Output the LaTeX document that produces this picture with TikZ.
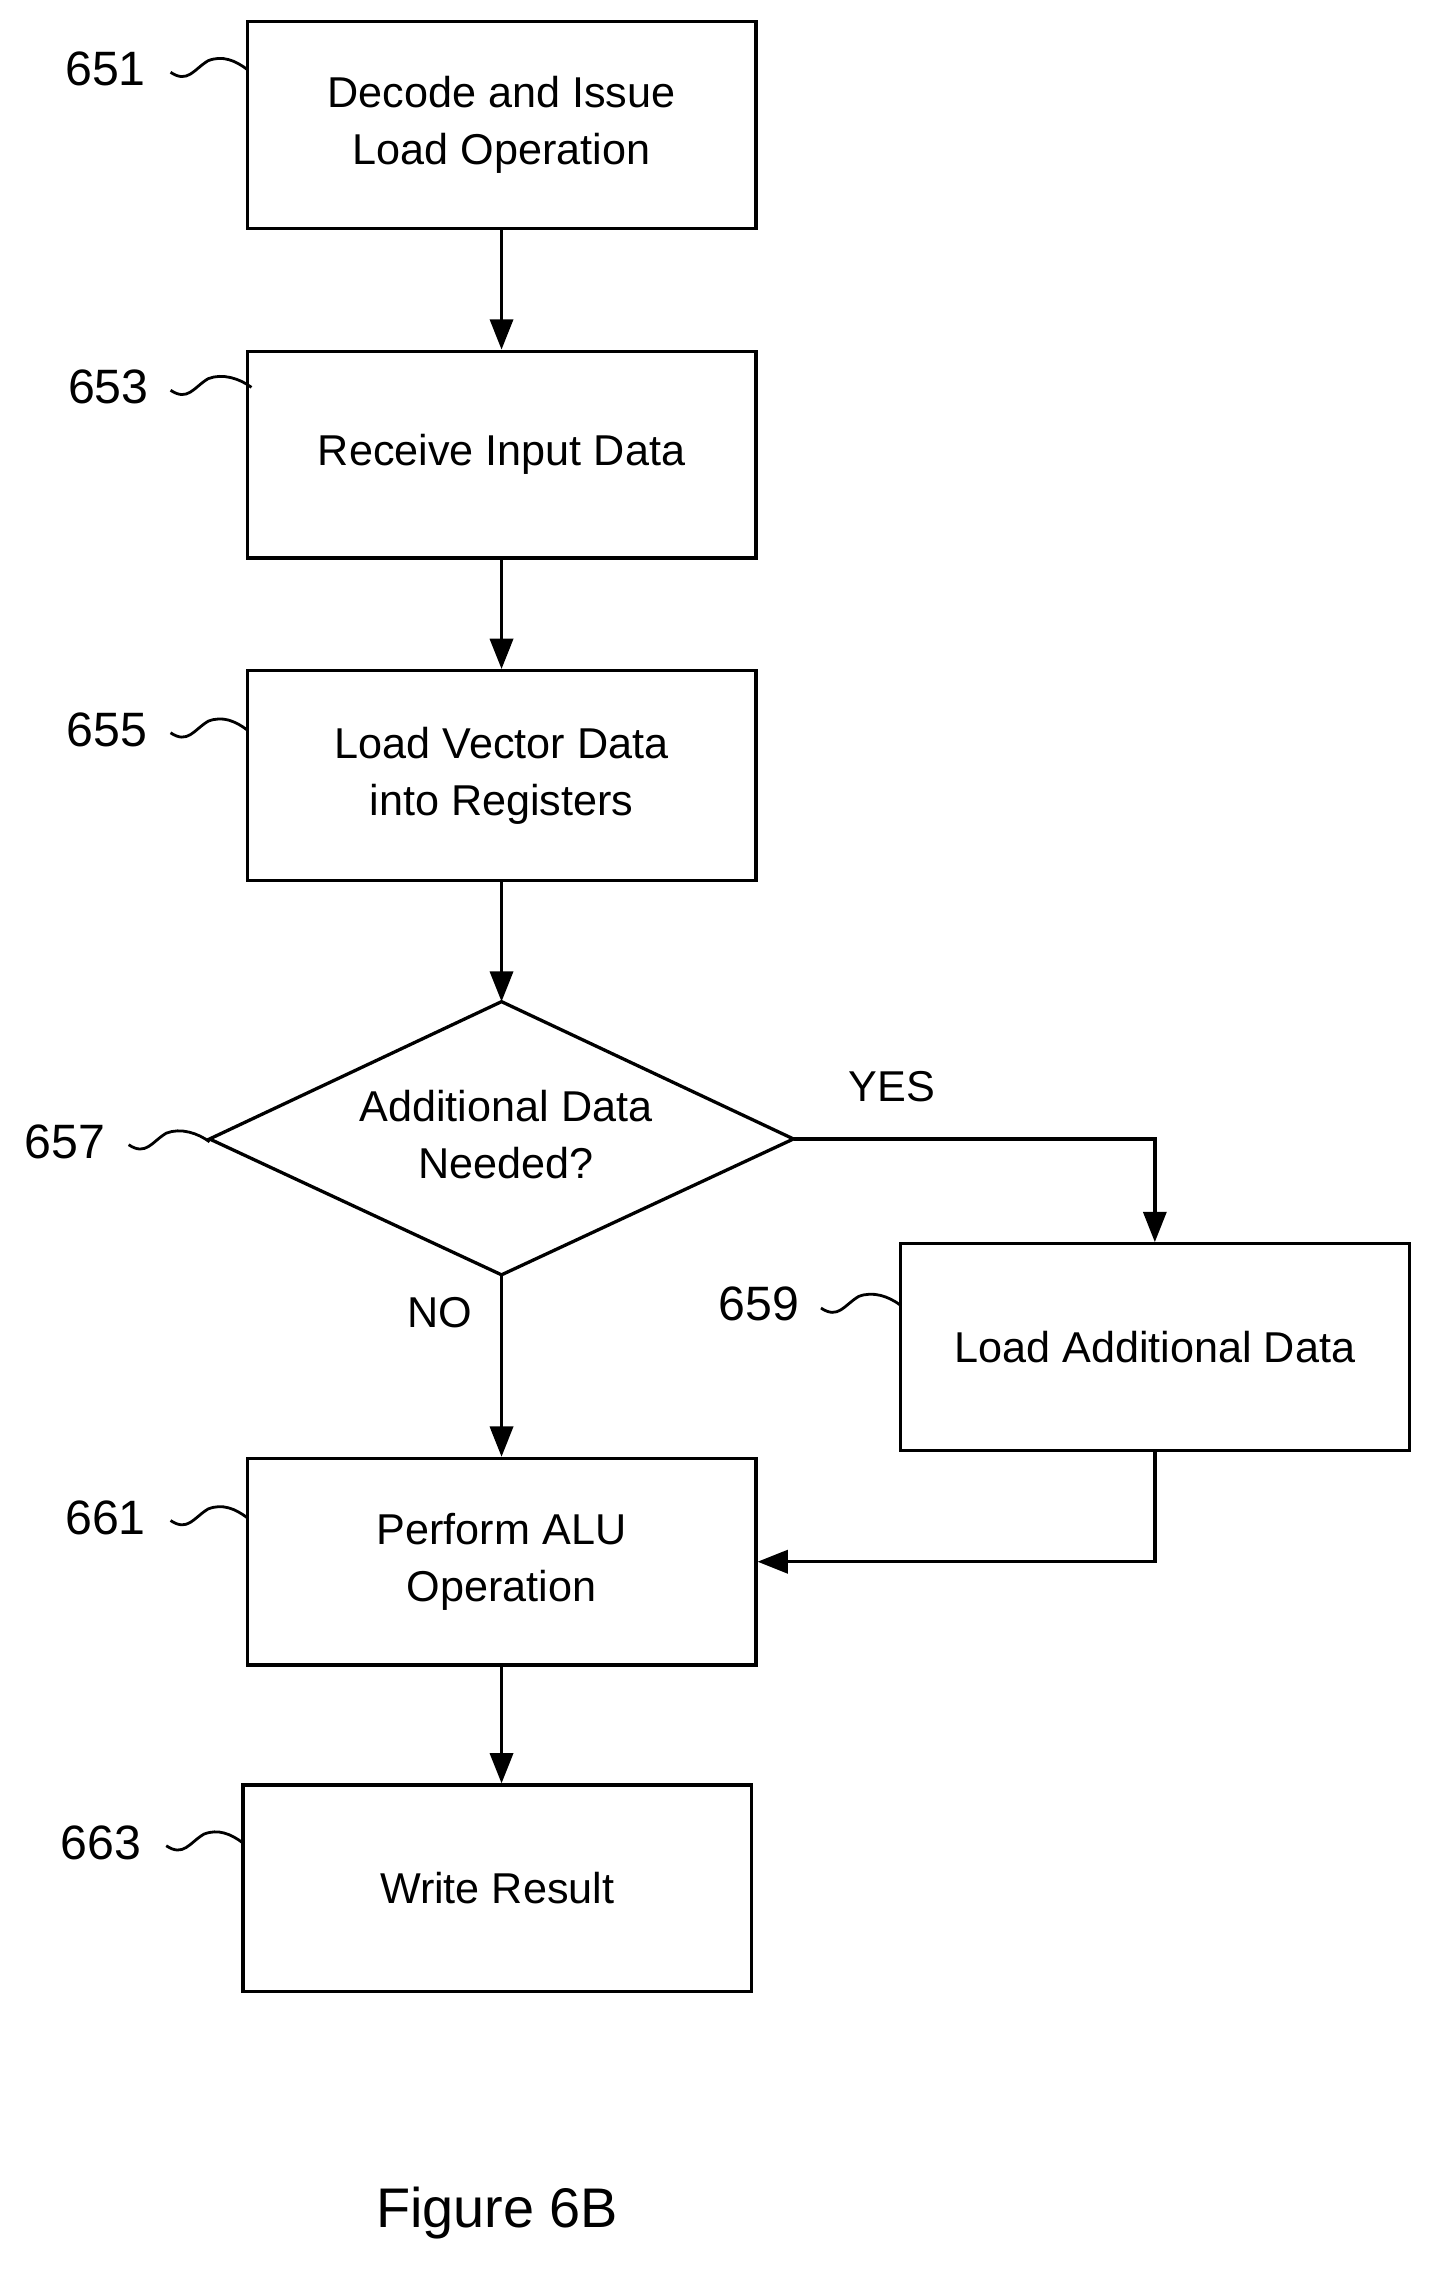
\documentclass[tikz,border=0pt]{standalone}
\usepackage{fontspec}
\setmainfont{Liberation Sans}
\usetikzlibrary{arrows.meta}
\begin{document}
\begin{tikzpicture}[x=0.02cm,y=-0.02cm,
  box/.style={draw,line width=1.3pt,align=center,inner sep=0pt,minimum width=7.04cm,minimum height=2.86cm,font=\fontsize{17}{20.5}\selectfont},
  lab/.style={font=\fontsize{19}{22}\selectfont},
  arr/.style={line width=1.3pt,-{Triangle[length=0.42cm,width=0.32cm]}},
  sq/.style={line width=1.1pt}]
\useasboundingbox (0,0) rectangle (1000,1583);
\node[box] (b651) at (347,86.5) {Decode and Issue\\[2pt]Load Operation};
\node[box] (b653) at (347,314.5) {Receive Input Data};
\node[box,minimum height=2.9cm] (b655) at (347,536.5) {Load Vector Data\\[2pt]into Registers};
\coordinate (dt) at (347,693); \coordinate (dl) at (145,788);
\coordinate (dr) at (549,788); \coordinate (db) at (347,882);
\draw[line width=1.3pt] (dt)--(dr)--(db)--(dl)--cycle;
\node[align=center,font=\fontsize{17}{20.5}\selectfont] (d657) at (350,785) {Additional Data\\[2pt]Needed?};
\node[box] (b659) at (799,932) {Load Additional Data};
\node[box] (b661) at (347,1080.5) {Perform ALU\\[2pt]Operation};
\node[box] (b663) at (344,1306.5) {Write Result};
\node[lab] (l651) at (73,48) {651};
\node[lab] (l653) at (75,268) {653};
\node[lab] (l655) at (74,505) {655};
\node[lab] (l657) at (45,790) {657};
\node[lab] (l659) at (525,902) {659};
\node[lab] (l661) at (73,1050) {661};
\node[lab] (l663) at (70,1275) {663};
\foreach \n/\x/\y/\e in {651/118/50/171,653/118/270/174,655/118/507/171,657/89/792/145,659/568/905/623,661/118/1052/171,663/115/1277/168}{
  \draw[sq] (\x,\y) .. controls (\x+12,\y+8) and (\x+16,\y-2) .. (\x+26,\y-8) .. controls (\x+36,\y-12) and (\e-8,\y-8) .. (\e,\y-2);}
\node[lab,font=\fontsize{17}{20}\selectfont] (yes) at (617,752) {YES};
\node[lab,font=\fontsize{17}{20}\selectfont] (no) at (304,908) {NO};
\node[font=\fontsize{22}{26}\selectfont] (fig) at (344,1531) {Figure 6B};
\draw[arr] (b651) -- (b653);
\draw[arr] (b653) -- (b655);
\draw[arr] (b655) -- (dt);
\draw[arr] (db) -- (b661.north);
\draw[arr] (dr) -| (b659.north);
\draw[arr] (b659.south) |- (b661.east);
\draw[arr] (b661) -- (b663.north -| b661.south);
\end{tikzpicture}
\end{document}
